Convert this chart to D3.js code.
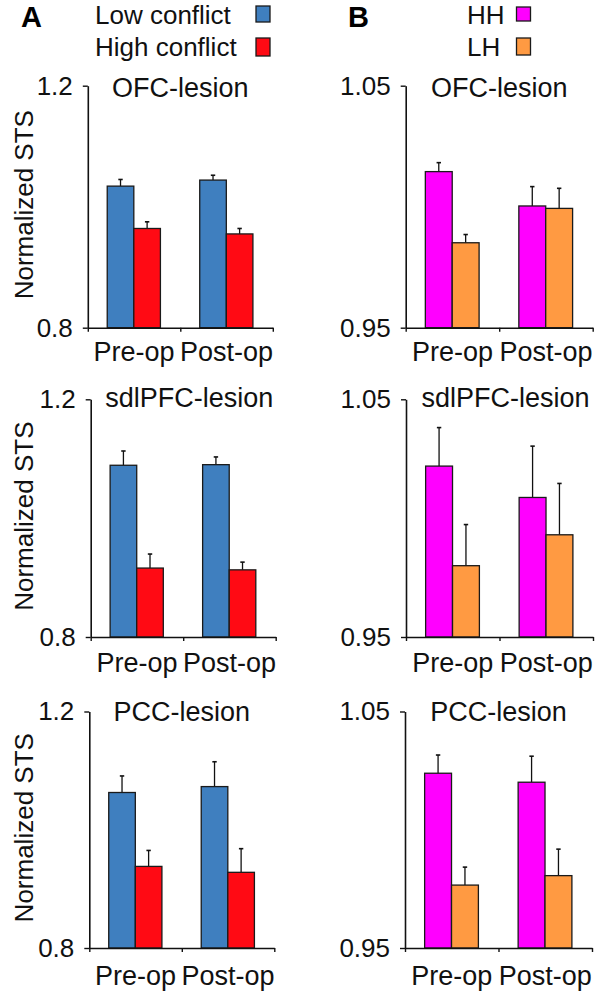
<!DOCTYPE html>
<html>
<head>
<meta charset="utf-8">
<script src="https://cdn.jsdelivr.net/npm/d3@7/dist/d3.min.js"></script>
<style>
  html, body { margin: 0; padding: 0; background: #fff; }
  svg { display: block; font-family: "Liberation Sans", Arial, sans-serif; }
</style>
</head>
<body>
<svg id="chart" width="597" height="993"></svg>
<script>
// ---------------- DATA ----------------
const categories = ["Pre-op", "Post-op"];
const seriesA = ["Low conflict", "High conflict"];
const seriesB = ["HH", "LH"];
const panelTitles = ["OFC-lesion", "sdlPFC-lesion", "PCC-lesion"];
const yDomainA = [0.8, 1.2];
const yDomainB = [0.95, 1.05];
const yTickLabelsA = ["0.8", "1.2"];
const yTickLabelsB = ["0.95", "1.05"];
const yAxisTitle = "Normalized STS";

// Panel A (Low conflict / High conflict), rows: OFC, sdlPFC, PCC
const lowConflict  = [[1.034, 1.044], [1.089, 1.090], [1.063, 1.073]];
const highConflict = [[0.964, 0.955], [0.916, 0.913], [0.938, 0.928]];
const lowConflictErr  = [[0.011, 0.008], [0.024, 0.013], [0.028, 0.042]];
const highConflictErr = [[0.011, 0.009], [0.0236, 0.013], [0.027, 0.040]];

// Panel B (HH / LH)
const hhValues = [[1.0145, 1.0003], [1.0219, 1.0087], [1.0239, 1.0201]];
const lhValues = [[0.9851, 0.9993], [0.9800, 0.9930], [0.9766, 0.9806]];
const hhErr = [[0.0037, 0.0080], [0.0162, 0.0216], [0.0077, 0.0110]];
const lhErr = [[0.0034, 0.0083], [0.0173, 0.0216], [0.0076, 0.0112]];

// ---------------- LAYOUT / STYLE ----------------
const colorsA = ["#3f7fbf", "#ff0a14"];
const colorsB = ["#ff00ff", "#ff9a42"];
const rowY = [[85.7, 327.7], [399.3, 637], [711.5, 948]];
const colAx = [87.8, 90.7, 89.3];
const colBx = [405.7, 406, 405];
const plotWA = 185;
const plotWB = 187;
const xLabelBaseline = [33, 35, 37];
const titleBaseline = [11, 7.5, 9];
const FONT = "Liberation Sans, Arial, sans-serif";

const svg = d3.select("#chart");

function drawPanel(opts) {
  const { x0, w, yTop, yBot, domain, tickLabels, series, colors, vals, errs, title, row, yTitle } = opts;
  const g = svg.append("g");
  const y = d3.scaleLinear().domain(domain).range([yBot, yTop]);
  const xBand = d3.scaleBand().domain(categories).range([x0, x0 + w]).padding(0);
  const bw = xBand.bandwidth();
  const xSub = d3.scaleBand().domain(series).range([bw * 0.21, bw * 0.785]).padding(0);
  const xBound = d3.scaleLinear().domain([0, categories.length]).range([x0, x0 + w]);

  // bars
  series.forEach((s, si) => {
    categories.forEach((c, ci) => {
      const v = vals[si][ci];
      const e = errs[si][ci];
      const bx = xBand(c) + xSub(s);
      const cx = bx + xSub.bandwidth() / 2;
      g.append("line")
        .attr("x1", cx).attr("x2", cx)
        .attr("y1", y(v)).attr("y2", y(v + e))
        .attr("stroke", "#111").attr("stroke-width", 1.3);
      g.append("line")
        .attr("x1", cx - 2.2).attr("x2", cx + 2.2)
        .attr("y1", y(v + e)).attr("y2", y(v + e))
        .attr("stroke", "#111").attr("stroke-width", 1.6);
      g.append("rect")
        .attr("x", bx).attr("y", y(v))
        .attr("width", xSub.bandwidth())
        .attr("height", y(domain[0]) - y(v))
        .attr("fill", colors[si])
        .attr("stroke", "#1a1a1a").attr("stroke-width", 1.3);
    });
  });

  // y axis
  const yAxis = d3.axisLeft(y)
    .tickValues(domain)
    .tickFormat((d, i) => tickLabels[i])
    .tickSize(5).tickSizeOuter(0).tickPadding(10);
  const ya = g.append("g").attr("transform", `translate(${x0},0)`).call(yAxis);
  ya.select(".domain").attr("stroke", "#111").attr("stroke-width", 1.6);
  ya.selectAll(".tick line").attr("stroke", "#111").attr("stroke-width", 1.4);
  ya.selectAll(".tick text")
    .attr("font-size", 26).attr("fill", "#111").attr("font-family", FONT);

  // x axis boundaries
  const xAxis = d3.axisBottom(xBound).tickValues(d3.range(categories.length + 1))
    .tickFormat("").tickSize(4).tickSizeOuter(0);
  const xa = g.append("g").attr("transform", `translate(0,${yBot})`).call(xAxis);
  xa.select(".domain").attr("stroke", "#111").attr("stroke-width", 1.6);
  xa.selectAll(".tick line").attr("stroke", "#111").attr("stroke-width", 1.4);

  // category labels
  const xl = d3.axisBottom(xBand).tickSize(0).tickPadding(0);
  const xlg = g.append("g").attr("transform", `translate(0,${yBot})`).call(xl);
  xlg.select(".domain").remove();
  xlg.selectAll(".tick text")
    .attr("y", xLabelBaseline[row]).attr("dy", 0)
    .attr("font-size", 27).attr("fill", "#111").attr("font-family", FONT);

  // title
  g.append("text")
    .attr("x", x0 + w / 2 + (row === 1 ? 6 : 0))
    .attr("y", yTop + titleBaseline[row])
    .attr("text-anchor", "middle")
    .attr("font-size", 27).attr("fill", "#111").attr("font-family", FONT)
    .text(title);

  if (yTitle) {
    g.append("text")
      .attr("transform", `translate(33,${(yTop + yBot) / 2 - 2}) rotate(-90)`)
      .attr("text-anchor", "middle")
      .attr("font-size", 26).attr("fill", "#111").attr("font-family", FONT)
      .text(yAxisTitle);
  }
}

for (let r = 0; r < 3; r++) {
  drawPanel({
    x0: colAx[r], w: plotWA, yTop: rowY[r][0], yBot: rowY[r][1],
    domain: yDomainA, tickLabels: yTickLabelsA, series: seriesA, colors: colorsA,
    vals: [lowConflict[r], highConflict[r]], errs: [lowConflictErr[r], highConflictErr[r]],
    title: panelTitles[r], row: r, yTitle: true
  });
  drawPanel({
    x0: colBx[r], w: plotWB, yTop: rowY[r][0], yBot: rowY[r][1],
    domain: yDomainB, tickLabels: yTickLabelsB, series: seriesB, colors: colorsB,
    vals: [hhValues[r], lhValues[r]], errs: [hhErr[r], lhErr[r]],
    title: panelTitles[r], row: r, yTitle: false
  });
}

// panel letters
svg.append("text").attr("x", 21).attr("y", 27).attr("font-size", 29)
  .attr("font-weight", "bold").attr("fill", "#000").attr("font-family", FONT).text("A");
svg.append("text").attr("x", 348).attr("y", 27).attr("font-size", 29)
  .attr("font-weight", "bold").attr("fill", "#000").attr("font-family", FONT).text("B");

// legends
function legend(items, colors, textX, boxX, baselines, boxYs) {
  items.forEach((t, i) => {
    svg.append("text").attr("x", textX).attr("y", baselines[i])
      .attr("font-size", 26).attr("fill", "#111").attr("font-family", FONT).text(t);
    svg.append("rect").attr("x", boxX).attr("y", boxYs[i][0])
      .attr("width", 14).attr("height", boxYs[i][1])
      .attr("fill", colors[i]).attr("stroke", "#1a1a1a").attr("stroke-width", 1.3);
  });
}
legend(seriesA, colorsA, 95, 256, [24, 56], [[6, 16], [38, 18]]);
legend(seriesB, colorsB, 467, 516.5, [24, 56], [[7, 14], [38, 17]]);
</script>
</body>
</html>
